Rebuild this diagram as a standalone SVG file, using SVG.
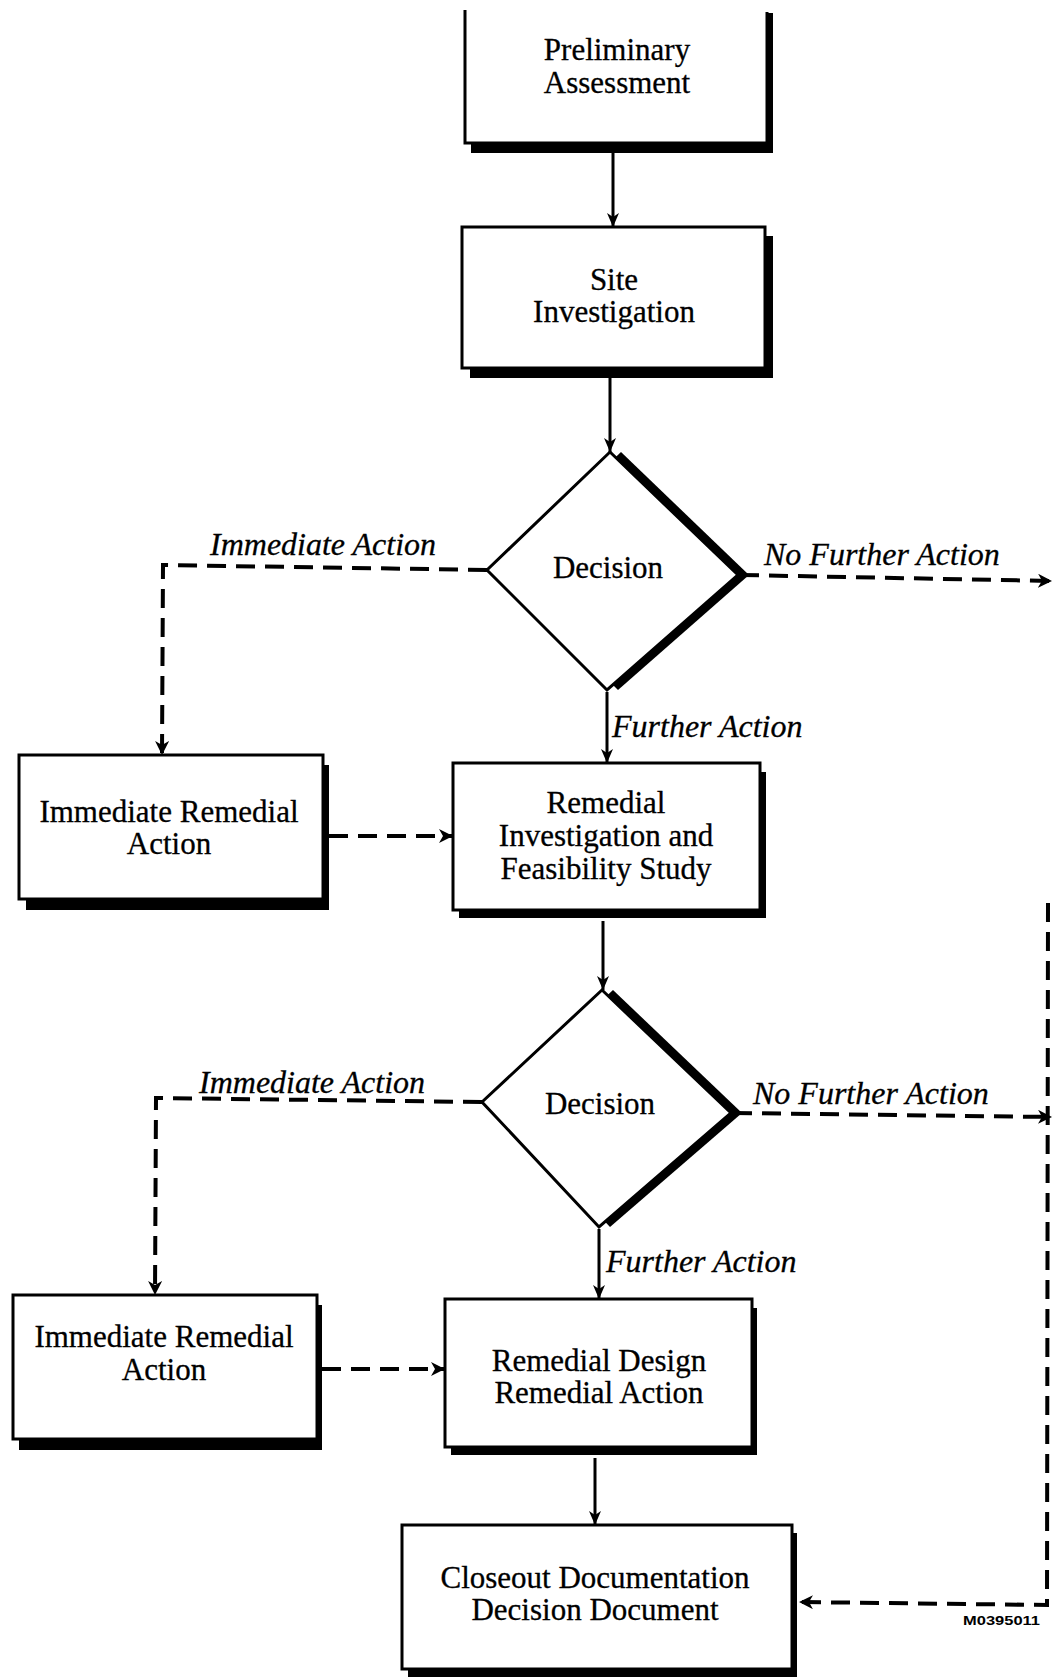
<svg xmlns="http://www.w3.org/2000/svg" width="1053" height="1678" viewBox="0 0 1053 1678">
<style>
.bg{fill:#fff}
.face{fill:#fff;stroke:#000;stroke-width:3}
.shadow{fill:#000}
.t{font-family:"Liberation Serif","Times New Roman",serif;font-size:31px;fill:#000;stroke:#000;stroke-width:0.3;text-anchor:middle}
.lbl{font-family:"Liberation Serif","Times New Roman",serif;font-size:32px;font-style:italic;fill:#000;stroke:#000;stroke-width:0.3}
.solid{fill:none;stroke:#000;stroke-width:3}
.dash{fill:none;stroke:#000;stroke-width:4;stroke-dasharray:19 10}
.code{font-family:"Liberation Sans",Arial,sans-serif;font-size:12px;font-weight:bold;fill:#000}
</style>
<defs>
<marker id="ah" viewBox="0 0 14 12" refX="14" refY="6" markerWidth="14" markerHeight="12" markerUnits="userSpaceOnUse" orient="auto">
<path d="M0,0 L14,6 L0,12 L4,6 z" fill="#000"/>
</marker>
<marker id="ahd" viewBox="0 0 14 14" refX="14" refY="7" markerWidth="14" markerHeight="14" markerUnits="userSpaceOnUse" orient="auto">
<path d="M0,0 L14,7 L0,14 L4,7 z" fill="#000"/>
</marker>
</defs>
<rect class="bg" x="0" y="0" width="1053" height="1678"/>

<g id="connectors">
<path class="solid" d="M613,146 L613,227" marker-end="url(#ah)"/>
<path class="solid" d="M610,371 L610,452" marker-end="url(#ah)"/>
<path class="solid" d="M607,692 L607,763" marker-end="url(#ah)"/>
<path class="solid" d="M603,921 L603,990" marker-end="url(#ah)"/>
<path class="solid" d="M599,1229 L599,1299" marker-end="url(#ah)"/>
<path class="solid" d="M595,1458 L595,1525" marker-end="url(#ah)"/>
<path class="dash" d="M487,570 L163,565 L162,755" marker-end="url(#ahd)"/>
<path class="dash" d="M740,575 L1052,581" marker-end="url(#ahd)"/>
<path class="dash" d="M329,836 L453,836" marker-end="url(#ahd)"/>
<path class="dash" d="M482,1102 L156,1098 L155,1295" marker-end="url(#ahd)"/>
<path class="dash" d="M733,1113 L1052,1117" marker-end="url(#ahd)"/>
<path class="dash" d="M322,1369 L445,1369" marker-end="url(#ahd)"/>
<path class="dash" d="M1048,903 L1047,1605 L799,1602" marker-end="url(#ahd)"/>
<text class="lbl" x="210" y="555">Immediate Action</text>
<text class="lbl" x="764" y="565">No Further Action</text>
<text class="lbl" x="612" y="737">Further Action</text>
<text class="lbl" x="199" y="1093">Immediate Action</text>
<text class="lbl" x="753" y="1104">No Further Action</text>
<text class="lbl" x="606" y="1272">Further Action</text>
</g>

<g id="preliminary-assessment">
<rect class="shadow" x="471" y="13" width="302" height="140"/>
<rect x="465" y="10" width="302" height="133" fill="#fff"/>
<path class="solid" d="M465,10 L465,143 L767,143 L767,12"/>
<text class="t" x="617" y="60">Preliminary</text>
<text class="t" x="617" y="93">Assessment</text>
</g>

<g id="site-investigation">
<rect class="shadow" x="470" y="236" width="303" height="142"/>
<rect class="face" x="462" y="227" width="303" height="141"/>
<text class="t" x="614" y="290">Site</text>
<text class="t" x="614" y="322">Investigation</text>
</g>

<g id="decision-1">
<polygon class="shadow" points="621,452 749,575 618,690 498,570"/>
<polygon class="face" points="610,452 738,575 607,690 487,570"/>
<text class="t" x="608" y="578">Decision</text>
</g>

<g id="immediate-remedial-action-1">
<rect class="shadow" x="26" y="765" width="303" height="145"/>
<rect class="face" x="19" y="755" width="304" height="144"/>
<text class="t" x="169" y="822">Immediate Remedial</text>
<text class="t" x="169" y="854">Action</text>
</g>

<g id="ri-fs">
<rect class="shadow" x="459" y="772" width="307" height="146"/>
<rect class="face" x="453" y="763" width="307" height="147"/>
<text class="t" x="606" y="813">Remedial</text>
<text class="t" x="606" y="846">Investigation and</text>
<text class="t" x="606" y="879">Feasibility Study</text>
</g>

<g id="decision-2">
<polygon class="shadow" points="613,990 742,1113 610,1227 493,1102"/>
<polygon class="face" points="602,990 731,1113 599,1227 482,1102"/>
<text class="t" x="600" y="1114">Decision</text>
</g>

<g id="immediate-remedial-action-2">
<rect class="shadow" x="19" y="1305" width="303" height="145"/>
<rect class="face" x="13" y="1295" width="304" height="144"/>
<text class="t" x="164" y="1347">Immediate Remedial</text>
<text class="t" x="164" y="1380">Action</text>
</g>

<g id="rd-ra">
<rect class="shadow" x="451" y="1308" width="306" height="147"/>
<rect class="face" x="445" y="1299" width="307" height="148"/>
<text class="t" x="599" y="1371">Remedial Design</text>
<text class="t" x="599" y="1403">Remedial Action</text>
</g>

<g id="closeout">
<rect class="shadow" x="408" y="1533" width="389" height="144"/>
<rect class="face" x="402" y="1525" width="390" height="144"/>
<text class="t" x="595" y="1588">Closeout Documentation</text>
<text class="t" x="595" y="1620">Decision Document</text>
</g>

<text class="code" x="963" y="1625" textLength="77" lengthAdjust="spacingAndGlyphs">M0395011</text>
</svg>
